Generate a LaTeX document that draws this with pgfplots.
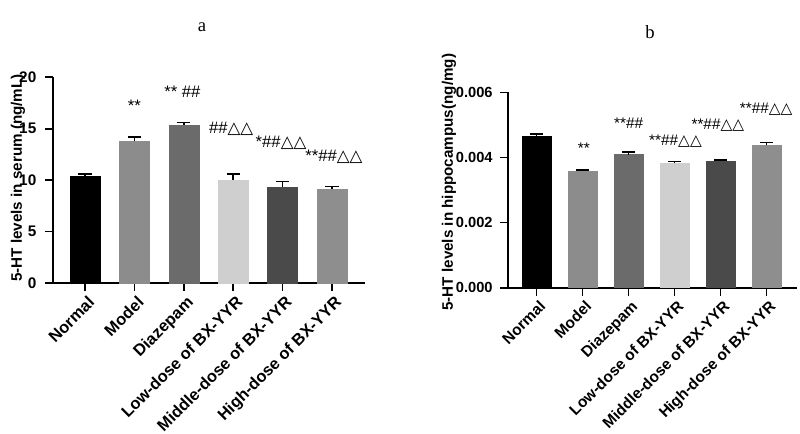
\documentclass[border=0pt]{standalone}
\usepackage{fontspec}
\setmainfont{Liberation Sans}
\newfontfamily\seriffont{Liberation Serif}
\newfontfamily\dejavu{DejaVu Sans}
\usepackage{pgfplots}
\pgfplotsset{compat=1.18}
\definecolor{cN}{HTML}{000000}
\definecolor{cM}{HTML}{8C8C8C}
\definecolor{cD}{HTML}{6B6B6B}
\definecolor{cL}{HTML}{CFCFCF}
\definecolor{cMi}{HTML}{4A4A4A}
\definecolor{cH}{HTML}{8E8E8E}
\newcommand{\tri}{{\dejavu △}}
\newcommand{\hh}{\#\#}
\newcommand{\fsa}{\fontsize{12.5}{12.5}\selectfont}
\newcommand{\fsb}{\fontsize{11.5}{11.5}\selectfont}
\pgfplotsset{
  mystyle/.style={
    scale only axis,
    axis x line=bottom, axis y line=left,
    axis line style={-, line width=1.3pt},
    tick align=outside, major tick length=6pt,
    tick style={line width=1.3pt, black},
    xtick={0,1,2,3,4,5},
    xticklabels={Normal,Model,Diazepam,Low-dose of BX-YYR,Middle-dose of BX-YYR,High-dose of BX-YYR},
    /pgf/number format/assume math mode=true,
    ymin=0, ybar, bar shift=0pt,
    every axis plot/.append style={
      error bars/y dir=plus, error bars/y explicit,
      error bars/error bar style={line width=1.3pt, black},
      error bars/error mark options={rotate=90, line width=1.3pt, mark size=5pt, black}
    },
    clip=false,
  }
}
\begin{document}
\begin{tikzpicture}
\useasboundingbox (0,0) rectangle (600pt,325.5pt);
\begin{axis}[mystyle,
  at={(39.75pt,113.25pt)}, anchor=south west,
  width=234pt, height=154.3pt,
  xmin=-0.65, xmax=5.67, ymax=20,
  ytick={0,5,10,15,20},
  x tick label style={rotate=45, anchor=north east, font=\bfseries\fontsize{12.3}{12.3}\selectfont, inner sep=1pt, yshift=-2pt},
  y tick label style={font=\bfseries\fontsize{11.5}{11.5}\selectfont, xshift=-3pt},
  bar width=22.5pt,
  ylabel style={font=\bfseries\fontsize{11.4}{11.4}\selectfont, at={(axis description cs:-0.112,0.51)}, anchor=center},
  ylabel={5-HT levels in serum (ng/mL)}]
\addplot[fill=cN, draw=cN] coordinates {(0,10.42) +- (0,0.16)};
\addplot[fill=cM, draw=cM] coordinates {(1,13.80) +- (0,0.36)};
\addplot[fill=cD, draw=cD] coordinates {(2,15.36) +- (0,0.24)};
\addplot[fill=cL, draw=cL] coordinates {(3,10.00) +- (0,0.62)};
\addplot[fill=cMi, draw=cMi] coordinates {(4,9.35) +- (0,0.52)};
\addplot[fill=cH, draw=cH] coordinates {(5,9.16) +- (0,0.22)};
\node[font=\fsa] at (axis cs:1,17.2) {**};
\node[font=\fsa] at (axis cs:1.97,18.6) {** \hh};
\node[font=\fsa] at (axis cs:2.96,15.0) {\hh\tri\tri};
\node[font=\fsa] at (axis cs:3.97,13.6) {*\hh\tri\tri};
\node[font=\fsa] at (axis cs:5.04,12.3) {**\hh\tri\tri};
\end{axis}
\begin{axis}[mystyle,
  at={(381pt,109.7pt)}, anchor=south west,
  width=216.75pt, height=146.5pt,
  xmin=-0.62, xmax=5.66, ymax=0.006,
  ytick={0,0.002,0.004,0.006},
  scaled y ticks=false,
  x tick label style={rotate=45, anchor=north east, font=\bfseries\fontsize{11.6}{11.6}\selectfont, inner sep=1pt, yshift=-2pt},
  y tick label style={font=\bfseries\fontsize{11}{11}\selectfont, xshift=-2pt},
  yticklabel style={/pgf/number format/.cd, fixed, fixed zerofill, precision=3},
  bar width=21.75pt,
  ylabel style={font=\bfseries\fontsize{11.4}{11.4}\selectfont, at={(axis description cs:-0.204,0.54)}, anchor=center},
  ylabel={5-HT levels in hippocampus(ng/mg)}]
\addplot[fill=cN, draw=cN] coordinates {(0,0.00466) +- (0,0.00006)};
\addplot[fill=cM, draw=cM] coordinates {(1,0.00358) +- (0,0.00003)};
\addplot[fill=cD, draw=cD] coordinates {(2,0.004085) +- (0,0.000095)};
\addplot[fill=cL, draw=cL] coordinates {(3,0.00383) +- (0,0.00005)};
\addplot[fill=cMi, draw=cMi] coordinates {(4,0.00389) +- (0,0.00004)};
\addplot[fill=cH, draw=cH] coordinates {(5,0.00437) +- (0,0.00009)};
\node[font=\fsb] at (axis cs:1.03,0.00428) {**};
\node[font=\fsb] at (axis cs:2.0,0.00505) {**\hh};
\node[font=\fsb] at (axis cs:3.02,0.0045) {**\hh\tri\tri};
\node[font=\fsb] at (axis cs:3.94,0.0050) {**\hh\tri\tri};
\node[font=\fsb] at (axis cs:4.99,0.00548) {**\hh\tri\tri};
\end{axis}
\node[font=\seriffont\fontsize{14}{14}\selectfont] at (151.5pt,305.25pt) {a};
\node[font=\seriffont\fontsize{14}{14}\selectfont] at (487.5pt,301.5pt) {b};
\end{tikzpicture}
\end{document}
